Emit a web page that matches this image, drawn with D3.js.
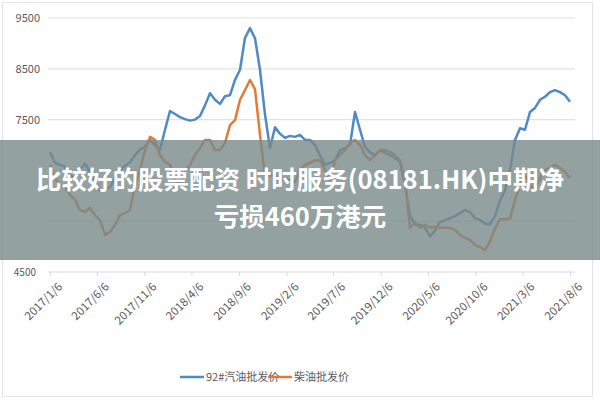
<!DOCTYPE html>
<html><head><meta charset="utf-8">
<script src="https://cdn.jsdelivr.net/npm/d3@7"></script>
<style>body{margin:0;background:#fff}text{font-family:"Noto Sans CJK SC","Noto Sans",sans-serif}</style>
</head><body><svg id="c" width="600" height="400"></svg>
<script>
const gasoline=[6860,6650,6610,6570,6410,6350,6510,6640,6460,6240,6100,6120,6170,6350,6500,6590,6660,6800,6910,6970,7100,7000,6900,7300,7670,7610,7550,7510,7480,7500,7570,7780,8020,7890,7810,7960,7980,8280,8480,9110,9300,9100,8480,7600,6940,7350,7220,7140,7180,7160,7200,7100,7100,7000,6800,6610,6650,6700,6900,6940,7000,7650,7300,6960,6860,6800,6900,6840,6800,6740,6670,6210,5620,5430,5430,5370,5200,5320,5480,5520,5560,5600,5660,5720,5680,5560,5520,5450,5440,5600,5900,6110,6510,7100,7330,7300,7650,7730,7890,7950,8040,8080,8040,7980,7850];
const diesel=[6610,6350,6210,6170,6020,5920,5720,5680,5760,5620,5520,5230,5290,5430,5620,5660,5720,6210,6510,6900,7160,7100,6800,6670,6610,6310,6210,6470,6610,6800,6940,7100,7100,6900,6900,7040,7390,7490,7890,8080,8280,8100,7200,6400,6400,6410,6310,6350,6310,6270,6510,6610,6650,6700,6700,6510,6310,6700,6800,6900,7040,7100,7000,6800,6700,6800,6900,6900,6860,6800,6700,6310,5370,5480,5370,5430,5370,5390,5370,5370,5370,5330,5230,5170,5130,5030,4990,4930,5100,5350,5540,5540,5550,5920,6210,6410,6210,6110,6350,6510,6550,6610,6550,6470,6350];
const tickLabels=["2017/1/6","2017/6/6","2017/11/6","2018/4/6","2018/9/6","2019/2/6","2019/7/6","2019/12/6","2020/5/6","2020/10/6","2021/3/6","2021/8/6"];
const yTicks=[4500,5500,6500,7500,8500,9500];
const seriesNames=["92#汽油批发价","柴油批发价"];
const colors=["#4e8ac8","#e07b39"];
const titleLines=["比较好的股票配资 时时服务(08181.HK)中期净","亏损460万港元"];

const parse=d3.timeParse("%Y/%-m/%-d");
const tickDates=tickLabels.map(parse);
const t0=tickDates[0], t1=tickDates[tickDates.length-1];
const svg=d3.select("#c");
svg.append("rect").attr("x",2.5).attr("y",2.5).attr("width",590).attr("height",394).attr("fill","none").attr("stroke","#e3e3e3");
const x=d3.scaleTime().domain([t0,t1]).range([50,570]);
const y=d3.scaleLinear().domain([4500,9500]).range([272,18]);
const bandTop=140, bandBot=260;
svg.append("g").selectAll("line").data(yTicks.slice(1)).join("line")
 .attr("x1",48).attr("x2",575).attr("y1",d=>y(d)).attr("y2",d=>y(d)).attr("stroke","#e2e2e2").attr("stroke-width",1.2);
svg.append("g").selectAll("text").data(yTicks.filter(d=>y(d)<bandTop||y(d)>bandBot)).join("text")
 .attr("x",d=>d===4500?36:40).attr("y",d=>y(d)+4).attr("text-anchor","end").attr("font-size",d=>d===4500?10:11).attr("fill","#595959").text(d=>d);
const xa=svg.append("g").attr("transform","translate(0,272)")
 .call(d3.axisBottom(x).tickValues(tickDates).tickSize(4).tickFormat(d3.timeFormat("%Y/%-m/%-d")));
xa.select(".domain").attr("stroke","#d9d9d9").attr("d","M48,0H575");
xa.selectAll(".tick line").attr("stroke","#d9d9d9");
xa.selectAll("text").attr("font-size",11.5).attr("fill","#595959").attr("text-anchor","end")
 .attr("transform","translate(5,8) rotate(-45)").attr("dy","0.3em");
[gasoline,diesel].forEach((s,k)=>{
 const ds=d3.range(s.length).map(i=>new Date(+t0+(t1-t0)*i/(s.length-1)));
 svg.append("path").datum(s).attr("fill","none").attr("stroke",colors[k]).attr("stroke-width",2.5).attr("stroke-linejoin","round")
  .attr("d",d3.line().x((d,i)=>x(ds[i])).y(d=>y(d)));
});
const lg=[[180,"92#汽油批发价"],[268,"柴油批发价"]];
lg.forEach((l,k)=>{
 svg.append("line").attr("x1",l[0]).attr("x2",l[0]+24).attr("y1",377).attr("y2",377).attr("stroke",colors[k]).attr("stroke-width",2.5);
 svg.append("text").attr("x",l[0]+26).attr("y",381).attr("font-size",11).attr("fill","#595959").text(seriesNames[k]);
});
svg.append("rect").attr("x",0).attr("y",bandTop).attr("width",600).attr("height",bandBot-bandTop).attr("fill","rgba(120,138,138,0.8)");
titleLines.forEach((t,i)=>svg.append("text").attr("x",300).attr("y",189+i*37).attr("text-anchor","middle")
 .attr("font-size",25.5).attr("font-weight","bold").attr("fill","#fff").text(t));
</script></body></html>
